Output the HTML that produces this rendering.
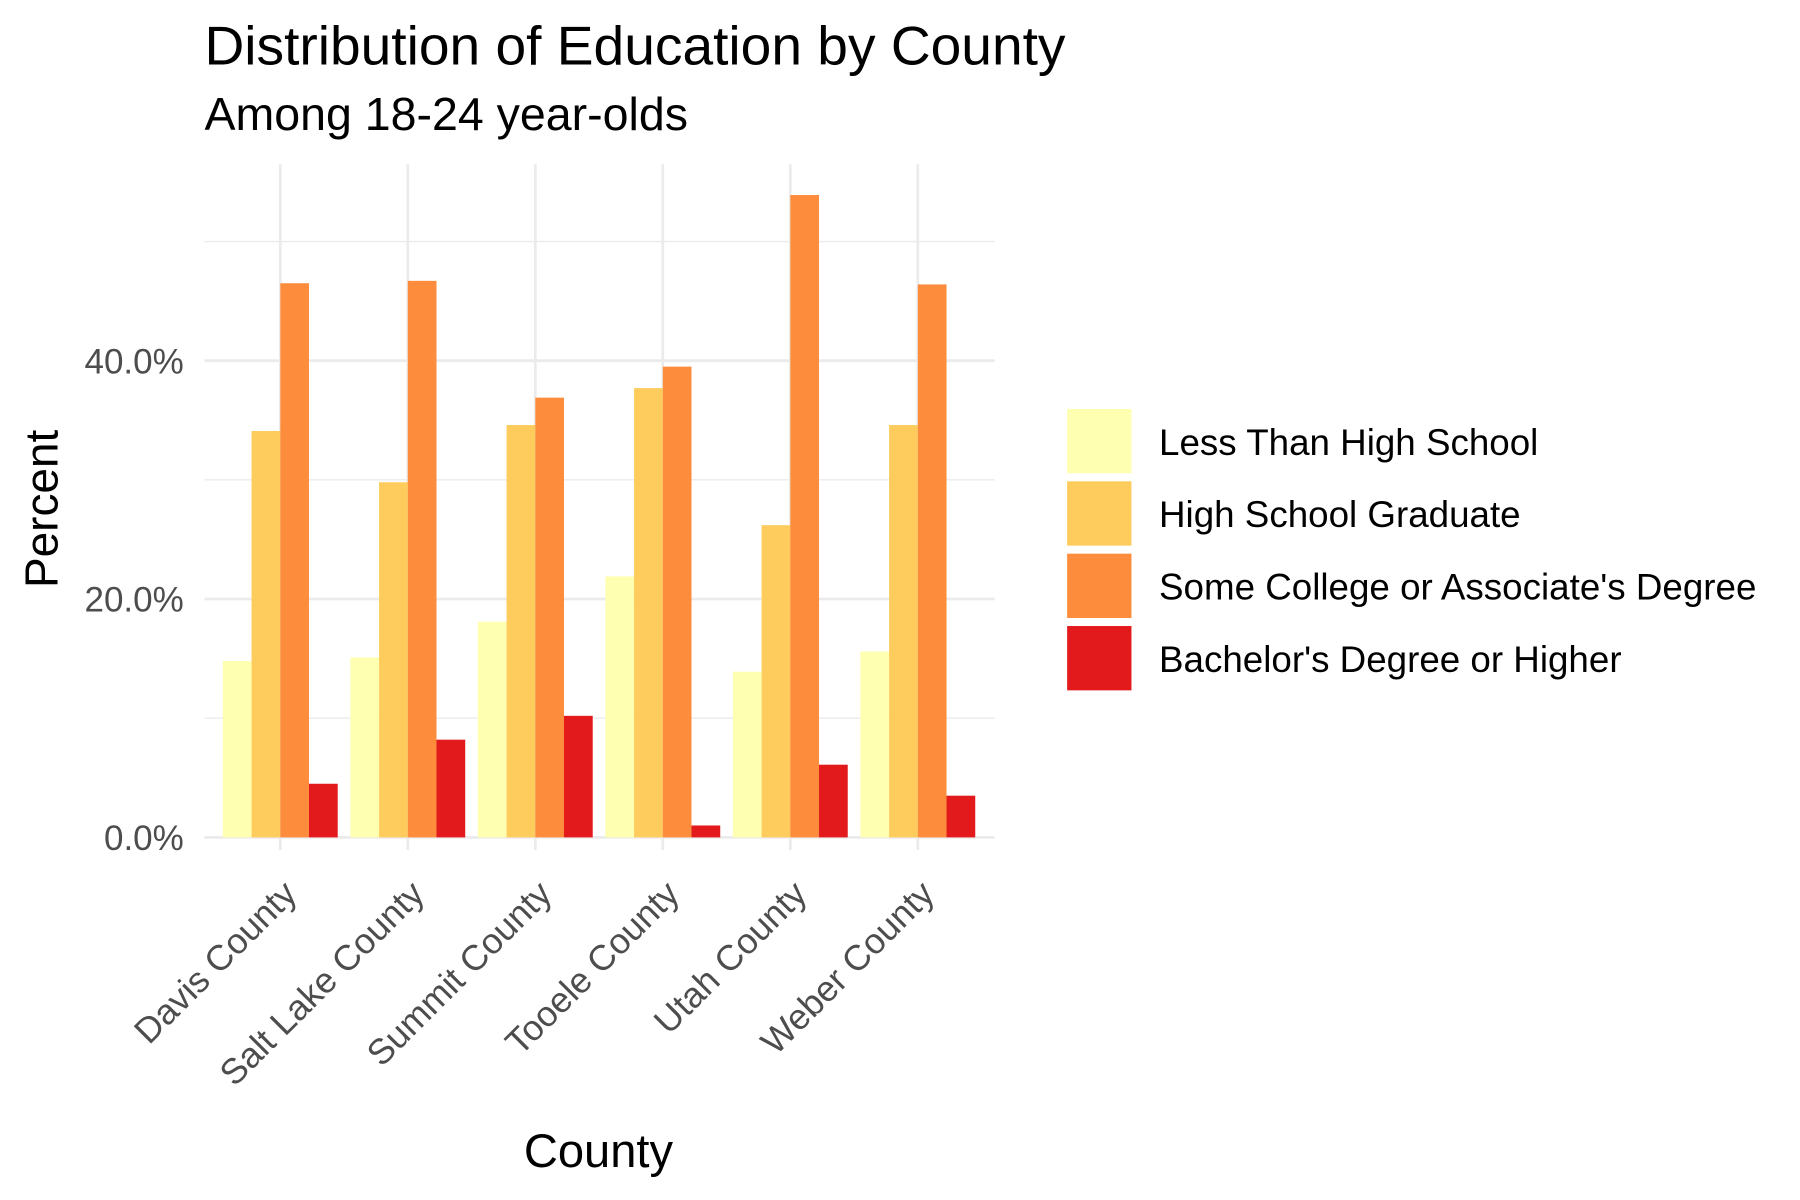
<!DOCTYPE html>
<html><head><meta charset="utf-8"><style>
html,body{margin:0;padding:0;background:#fff}
svg{display:block;font-family:"Liberation Sans",Arial,sans-serif}
</style></head><body>
<svg id="chart" width="1800" height="1200" viewBox="0 0 1567 1044.67" xmlns="http://www.w3.org/2000/svg">
<text x="178" y="56" font-size="48" fill="#000">Distribution of Education by County</text>
<text x="178" y="113" font-size="40.5" fill="#000">Among 18-24 year-olds</text>
<g id="grid"></g><g id="bars"></g><g id="axes"></g>
<text transform="translate(50,443) rotate(-90)" text-anchor="middle" font-size="40" fill="#000">Percent</text>
<text x="521" y="1016" text-anchor="middle" font-size="41" fill="#000">County</text>
<g id="legend"></g>
</svg>
<script>
const categories = ["Davis County","Salt Lake County","Summit County","Tooele County","Utah County","Weber County"];
const seriesNames = ["Less Than High School","High School Graduate","Some College or Associate's Degree","Bachelor's Degree or Higher"];
const lessThanHS = [14.8,15.1,18.1,21.9,13.9,15.6];
const hsGrad = [34.1,29.8,34.6,37.7,26.2,34.6];
const someCollege = [46.5,46.7,36.9,39.5,53.9,46.4];
const bachelors = [4.5,8.2,10.2,1.0,6.1,3.5];
const yTicks = [0,20,40];
const yTickLabels = ["0.0%","20.0%","40.0%"];
const colors = ["#FFFFB2","#FECC5C","#FD8D3C","#E31A1C"];
const series = [lessThanHS,hsGrad,someCollege,bachelors];
const NS="http://www.w3.org/2000/svg";
const pLeft=178,pRight=866,pTop=143,pBottom=740;
const yS = v => 729 - v*10.375;
const xS = i => 244 + i*111;
const bw = 25;
function mk(tag,attrs,parent){const e=document.createElementNS(NS,tag);for(const k in attrs)e.setAttribute(k,attrs[k]);parent.appendChild(e);return e;}
const grid=document.getElementById('grid');
for(let v=0;v<=50;v+=10){
  const g=mk('line',{x1:pLeft,x2:pRight,y1:yS(v),y2:yS(v),stroke:'#ebebeb','stroke-width':v%20===0?2.4:1.2},grid);
  
  
}
categories.forEach((c,i)=>{
  const g=mk('line',{x1:xS(i),x2:xS(i),y1:pTop,y2:pBottom,stroke:'#ebebeb','stroke-width':2.4},grid);
  
  
});
const bars=document.getElementById('bars');
series.forEach((s,si)=>{
  s.forEach((v,i)=>{
    const bx=xS(i)-2*bw+si*bw;
    const r=mk('rect',{x:bx,y:yS(v),width:bw,height:yS(0)-yS(v),fill:colors[si]},bars);
    
    
  });
});
const axes=document.getElementById('axes');
yTicks.forEach((v,i)=>{
  const t=mk('text',{x:160,y:yS(v)+11,'text-anchor':'end','font-size':30.5,fill:'#4d4d4d'},axes);
  t.textContent=yTickLabels[i];
  
  
});
categories.forEach((c,i)=>{
  const tx=xS(i)+16, ty=780;
  const t=mk('text',{x:tx,y:ty,'text-anchor':'end','font-size':31,fill:'#4d4d4d',transform:`rotate(-45 ${tx} ${ty})`},axes);
  t.textContent=c;
  
  
});
const legend=document.getElementById('legend');
seriesNames.forEach((n,i)=>{
  const yy=356+i*63;
  const r=mk('rect',{x:929,y:yy,width:56,height:56,fill:colors[i]},legend);
  
  
  const t=mk('text',{x:1009,y:yy+40,'font-size':32,fill:'#000'},legend);
  t.textContent=n;
  
  
});
</script>
</body></html>
